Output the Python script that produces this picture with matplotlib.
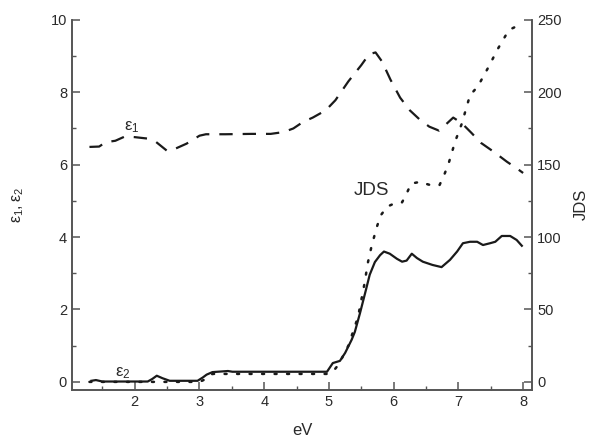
import numpy as np
import matplotlib.pyplot as plt

plt.rcParams['font.family'] = ['Liberation Sans', 'DejaVu Sans']

# eps1 (dashed, left axis)
e1_x = [1.30, 1.45, 1.55, 1.70, 1.85, 2.00, 2.20, 2.32, 2.50, 2.60, 2.80, 3.00,
        3.10, 3.40, 3.80, 4.10, 4.30, 4.45, 4.60, 4.75, 4.95, 5.10, 5.30, 5.50,
        5.62, 5.72, 5.82, 5.95, 6.10, 6.25, 6.40, 6.55, 6.70, 6.80, 6.92, 7.05,
        7.20, 7.35, 7.55, 7.75, 7.90, 8.00]
e1_y = [6.49, 6.50, 6.62, 6.66, 6.78, 6.76, 6.72, 6.64, 6.38, 6.42, 6.58, 6.80,
        6.84, 6.84, 6.85, 6.85, 6.90, 7.00, 7.18, 7.30, 7.50, 7.78, 8.30, 8.75,
        9.05, 9.10, 8.85, 8.35, 7.85, 7.50, 7.25, 7.05, 6.94, 7.10, 7.30, 7.15,
        6.88, 6.60, 6.35, 6.08, 5.90, 5.77]

# eps2 (solid, left axis)
e2_x = [1.33, 1.40, 1.50, 2.20, 2.27, 2.34, 2.43, 2.54, 2.97, 3.05, 3.11, 3.20,
        3.44, 3.51, 4.00, 4.97, 5.06, 5.17, 5.25, 5.35, 5.40, 5.48, 5.56, 5.63,
        5.71, 5.79, 5.85, 5.94, 6.05, 6.13, 6.20, 6.28, 6.36, 6.45, 6.60, 6.74,
        6.87, 6.98, 7.07, 7.18, 7.29, 7.38, 7.49, 7.57, 7.67, 7.80, 7.90, 7.98]
e2_y = [0.03, 0.05, 0.01, 0.01, 0.08, 0.17, 0.10, 0.03, 0.03, 0.12, 0.20, 0.27,
        0.30, 0.28, 0.28, 0.28, 0.52, 0.58, 0.80, 1.16, 1.38, 1.90, 2.46, 2.96,
        3.31, 3.50, 3.60, 3.54, 3.40, 3.32, 3.35, 3.54, 3.42, 3.32, 3.23, 3.17,
        3.37, 3.60, 3.83, 3.87, 3.87, 3.78, 3.83, 3.87, 4.03, 4.03, 3.92, 3.76]

# JDS (dotted, right axis)
jds_x = [1.30, 2.20, 2.50, 3.00, 3.10, 3.20, 4.00, 4.97, 5.06, 5.15, 5.30, 5.45,
         5.55, 5.60, 5.66, 5.74, 5.80, 5.90, 6.00, 6.13, 6.20, 6.27, 6.40, 6.56,
         6.71, 6.79, 6.85, 6.95, 7.05, 7.18, 7.30, 7.46, 7.61, 7.78, 7.92, 8.00]
jds_y = [0, 0, 0, 0, 2, 5.5, 5.5, 5.5, 7, 12, 25, 45, 68, 82, 94, 107, 115, 121,
         123, 124, 130, 137, 138, 136, 136, 144, 151, 166, 178, 198, 204, 217,
         230, 243, 246, 248]

ink = '#1a1a1a'
axis_col = '#555555'
text_col = '#2a2a2a'

fig, ax = plt.subplots(figsize=(5.9, 4.41), dpi=100)
fig.subplots_adjust(left=0.122, right=0.902, bottom=0.116, top=0.955)
ax2 = ax.twinx()

ax.plot(e1_x, e1_y, color=ink, lw=1.6, dashes=(6, 4.5))
ax.plot(e2_x, e2_y, color=ink, lw=1.6)
ax2.plot(jds_x, jds_y, color=ink, lw=1.8, linestyle=(0, (0.8, 4.2)),
         dash_capstyle='round')

ax.set_xlim(1.03, 8.14)
ax.set_ylim(-0.22, 10)
ax2.set_ylim(-5.5, 250)

ax.set_xticks([2, 3, 4, 5, 6, 7, 8])
ax.set_xticks(np.arange(1.5, 8.1, 0.5), minor=True)
ax.set_yticks([0, 2, 4, 6, 8, 10])
ax.set_yticks(np.arange(0, 10.1, 1), minor=True)
ax2.set_yticks([0, 50, 100, 150, 200, 250])
ax2.set_yticks(np.arange(0, 251, 25), minor=True)

for a in (ax, ax2):
    a.spines['top'].set_visible(False)
    for s in a.spines.values():
        s.set_color(axis_col)
        s.set_linewidth(1.2)
    a.tick_params(which='both', direction='in', colors=axis_col,
                  labelcolor=text_col, labelsize=10.5)
    a.tick_params(which='major', length=6, width=1.1)
    a.tick_params(which='minor', length=3, width=1.0)
ax.tick_params(axis='y', right=False)
ax2.tick_params(axis='y', left=False)

ax.set_xlabel('eV', fontsize=12, color=text_col, labelpad=10)
ax.set_ylabel(r'$\mathregular{\varepsilon_1,\varepsilon_2}$', fontsize=11.5,
              color=text_col, labelpad=18)
ax2.set_ylabel('JDS', fontsize=12, color=text_col, rotation=90, labelpad=9)

ax.text(1.83, 6.95, r'$\mathregular{\varepsilon_1}$', fontsize=12, color=text_col)
ax.text(1.70, 0.15, r'$\mathregular{\varepsilon_2}$', fontsize=12, color=text_col)
ax.text(5.38, 5.15, 'JDS', fontsize=13.5, color=text_col)

fig.savefig('out.png')
